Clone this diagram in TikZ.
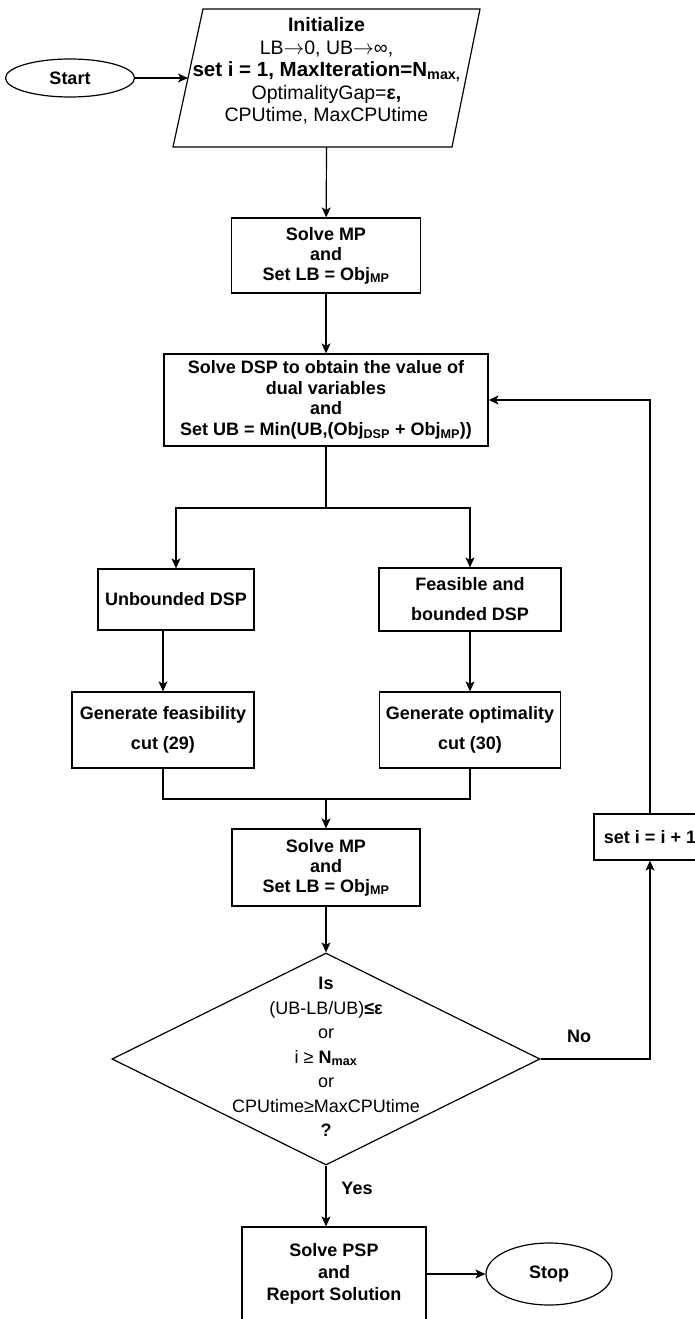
\documentclass[tikz,border=0pt]{standalone}
\usepackage{fontspec}
\setmainfont{Liberation Sans}
\usepackage{tikz}
\usetikzlibrary{positioning}
\usetikzlibrary{arrows.meta,shapes.geometric,calc}

\begin{document}
\begin{tikzpicture}
    [x=1pt, y=-1pt,
      every node/.style={font=\fontsize{18}{21}\selectfont},
      term/.style={ellipse, draw=black, line width=1.2pt, inner sep=0pt},
      proc/.style={rectangle, draw=black, line width=1.2pt, align=center, inner sep=0pt},
      cond/.style={diamond, draw=black, line width=1.2pt, minimum width=428pt, minimum height=212pt, inner sep=0pt},
      txt/.style={align=center, inner sep=0pt},
      lh/.style={font=\fontsize{18}{#1}\selectfont},
      darc/.style={-{Stealth[length=10pt,width=9pt,inset=2.5pt]}, line width=1.2pt},
      uarc/.style={-, line width=1.2pt}]

    \useasboundingbox (0,0) rectangle (695,1319);

    \node (start) at (70,78) [term, minimum width=129pt, minimum height=38pt] {\textbf{Start}};
    % input box (parallelogram)
    \coordinate (initSW) at (173,147);
    \coordinate (initNW) at (203,9);
    \coordinate (initNE) at (480,9);
    \coordinate (initSE) at (452,147);
    \draw[uarc] (initSW) -- (initNW) -- (initNE) -- (initSE) -- cycle;
    \coordinate (initW) at ($(initSW)!0.5!(initNW)$);
    \coordinate (initS) at (326.5,147);
    \node (initText) at (326.5,71) [txt, font=\fontsize{19.5}{22.5}\selectfont] {\textbf{Initialize}\\ LB$\rightarrow$0, UB$\rightarrow$∞,\\ {\fontsize{20.5}{22.5}\selectfont\textbf{set i = 1, MaxIteration=N\textsubscript{max,}}}\\ OptimalityGap=\textbf{ε,}\\ CPUtime, MaxCPUtime};
    \node (mp1) at (326,255.5) [proc, minimum width=189pt, minimum height=75pt, lh=20] {\textbf{Solve MP}\\ \textbf{and}\\ \textbf{Set LB = Obj\textsubscript{MP}}};
    \node (dsp) at (326,400) [proc, minimum width=324pt, minimum height=92pt, lh=20.5] {\textbf{Solve DSP to obtain the value of}\\ \textbf{dual variables}\\ \textbf{and}\\ \textbf{Set UB = Min(UB,(Obj\textsubscript{DSP} + Obj\textsubscript{MP}))}};
    \node (unb) at (176,599.5) [proc, minimum width=156pt, minimum height=61pt] {\textbf{Unbounded DSP}};
    \node (feas) at (470,599.5) [proc, minimum width=182pt, minimum height=63pt, lh=30] {\textbf{Feasible and}\\ \textbf{bounded DSP}};
    \node (gfeas) at (163,730) [proc, minimum width=182pt, minimum height=76pt, lh=30] {\textbf{Generate feasibility}\\ \textbf{cut (29)}};
    \node (gopt) at (470,730) [proc, minimum width=181pt, minimum height=76pt, lh=30] {\textbf{Generate optimality}\\ \textbf{cut (30)}};
    \node (mp2) at (326,867.5) [proc, minimum width=188pt, minimum height=77pt, lh=20] {\textbf{Solve MP}\\ \textbf{and}\\ \textbf{Set LB = Obj\textsubscript{MP}}};
    \node (test) at (326,1059) [cond] {};
    \node (testText) at (326,1057) [txt, lh=24.5] {\textbf{Is}\\ (UB-LB/UB)\textbf{≤ε}\\ or\\ i ≥ \textbf{N\textsubscript{max}}\\ or\\ CPUtime≥MaxCPUtime\\ \textbf{?}};
    \node (inc) at (650,837) [proc, minimum width=112pt, minimum height=46pt] {\textbf{set i = i + 1}};
    \node (psp) at (334,1274) [proc, minimum width=184pt, minimum height=94pt, lh=22] {\textbf{Solve PSP}\\ \textbf{and}\\ \textbf{Report Solution}};
    \node (stop) at (549,1274) [term, minimum width=126pt, minimum height=62pt] {\textbf{Stop}};
    \node (yes) at (357,1188) {\textbf{Yes}};
    \node (no) at (579,1036) {\textbf{No}};

    \coordinate (split) at (326,508);
    \coordinate (merge) at (326,799);

    \draw[darc] (start.east) -- (start.east -| initW);
    \draw[darc] (initS) -- (mp1);
    \draw[darc] (mp1) -- (dsp);
    \draw[uarc] (dsp) -- (split);
    \draw[darc] (split) -| (unb);
    \draw[darc] (split) -| (feas);
    \draw[darc] (unb.south -| gfeas.north) -- (gfeas.north);
    \draw[darc] (feas) -- (gopt);
    \draw[uarc] (gfeas) |- (merge) -| (gopt);
    \draw[darc] (merge) -- (mp2);
    \draw[darc] (mp2) -- (test);
    \draw[darc] (test.south) -- (test.south |- psp.north);
    \draw[darc] (psp) -- (stop);
    \draw[darc] (test.east) -| (inc);
    \draw[darc] (inc) |- (dsp);
  \end{tikzpicture}
\end{document}
